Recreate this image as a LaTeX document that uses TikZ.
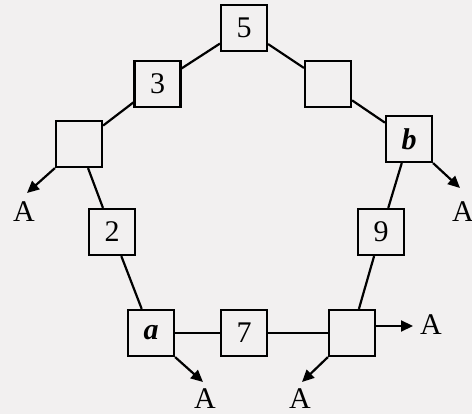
\documentclass[tikz,border=0pt]{standalone}
\usepackage{fontspec}
\setmainfont{Liberation Serif}
\usetikzlibrary{arrows.meta}
\definecolor{bgc}{RGB}{242,240,240}
\tikzset{
  box/.style={draw=black, line width=2.2pt, minimum size=46pt, inner sep=0pt, font=\fontsize{30}{30}\selectfont},
  lbl/.style={inner sep=0pt, font=\fontsize{30}{30}\selectfont},
  edge/.style={line width=2.2pt},
  arr/.style={line width=2.2pt, -{Triangle[length=12pt,width=11pt]}}
}
\begin{document}
\begin{tikzpicture}[x=1pt,y=-1pt]
\fill[bgc] (0,0) rectangle (472,414);
\useasboundingbox (0,0) rectangle (472,414);
\node[box] (n5) at (244,28) {5};
\node[box] (n3) at (157.5,84) {3};
\node[box] (ne) at (328,84) {};
\node[box] (nl) at (79,144) {};
\node[box] (nb) at (409,139) {\textbf{\textit{b}}};
\node[box] (n2) at (112,232) {2};
\node[box] (n9) at (381,232) {9};
\node[box] (na) at (151,333) {\textbf{\textit{a}}};
\node[box] (n7) at (244,333) {7};
\node[box] (nr) at (352,333) {};
\draw[edge] (n5) -- (n3);
\draw[edge] (n3) -- (nl);
\draw[edge] (nl) -- (n2);
\draw[edge] (n2) -- (na);
\draw[edge] (na) -- (n7);
\draw[edge] (n7) -- (nr);
\draw[edge] (nr) -- (n9);
\draw[edge] (n9) -- (nb);
\draw[edge] (nb) -- (ne);
\draw[edge] (ne) -- (n5);
\node[lbl] (A1) at (24,212) {A};
\node[lbl] (A2) at (463,212) {A};
\node[lbl] (A3) at (431,325) {A};
\node[lbl] (A4) at (205,399) {A};
\node[lbl] (A5) at (300,399) {A};
\coordinate (t1) at (27,193);
\coordinate (t2) at (460,188);
\coordinate (t3) at (413,326);
\coordinate (t4) at (203,382);
\coordinate (t5) at (302,382);
\draw[arr] (nl.south west) -- (t1);
\draw[arr] (nb.south east) -- (t2);
\draw[arr] (nr.east |- t3) -- (t3);
\draw[arr] (na.south east) -- (t4);
\draw[arr] (nr.south west) -- (t5);
\end{tikzpicture}
\end{document}
